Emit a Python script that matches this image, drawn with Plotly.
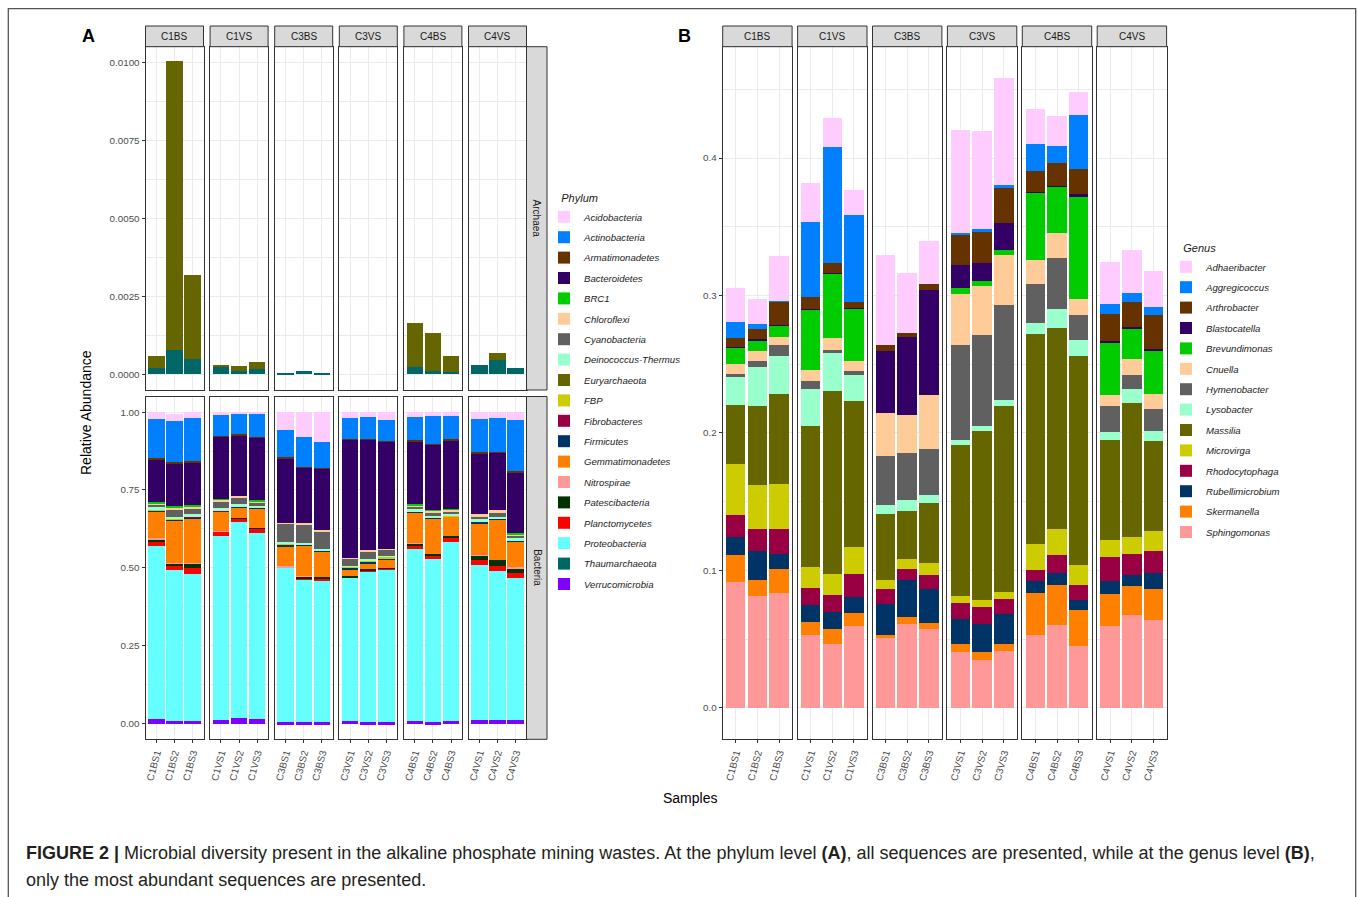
import plotly.graph_objects as go

W, H = 1358, 897
FONT = "Liberation Sans, Arial, sans-serif"

# ---------------- data ----------------
sites = ["C1BS", "C1VS", "C3BS", "C3VS", "C4BS", "C4VS"]
samples = ["C1BS1", "C1BS2", "C1BS3", "C1VS1", "C1VS2", "C1VS3",
           "C3BS1", "C3BS2", "C3BS3", "C3VS1", "C3VS2", "C3VS3",
           "C4BS1", "C4BS2", "C4BS3", "C4VS1", "C4VS2", "C4VS3"]

phyla = ["Acidobacteria", "Actinobacteria", "Armatimonadetes", "Bacteroidetes", "BRC1",
         "Chloroflexi", "Cyanobacteria", "Deinococcus-Thermus", "Euryarchaeota", "FBP",
         "Fibrobacteres", "Firmicutes", "Gemmatimonadetes", "Nitrospirae", "Patescibacteria",
         "Planctomycetes", "Proteobacteria", "Thaumarchaeota", "Verrucomicrobia"]
phylum_colors = ["#FFCCFF", "#0080FF", "#663300", "#330066", "#00CC00",
                 "#FFCC99", "#606060", "#99FFCC", "#666600", "#CCCC00",
                 "#990044", "#003366", "#FF8000", "#FF9999", "#003300",
                 "#FF0000", "#66FFFF", "#006666", "#8000FF"]

# Archaea row (panel A, top)
arc_euryarchaeota = [0.00038, 0.00925, 0.0027, 0.00003, 0.00017, 0.00023,
                     0.0, 0.0, 0.0, 0.0, 0.0, 0.0,
                     0.00142, 0.00122, 0.00052, 0.0, 0.00025, 0.0]
arc_thaumarchaeota = [0.00021, 0.00078, 0.00049, 0.00025, 0.00011, 0.00016,
                      0.00006, 0.0001, 0.00006, 0.0, 0.0, 0.0,
                      0.00024, 0.0001, 0.00007, 0.0003, 0.00045, 0.00021]

# Bacteria row (panel A, bottom)
bac_acidobacteria = [0.021, 0.02, 0.0175, 0.006, 0.002, 0.007, 0.057, 0.079, 0.095,
                     0.0205, 0.015, 0.024, 0.015, 0.012, 0.011, 0.0235, 0.0195, 0.0255]
bac_actinobacteria = [0.127, 0.134, 0.14, 0.07, 0.068, 0.072, 0.088, 0.096, 0.083,
                      0.065, 0.07, 0.068, 0.076, 0.09, 0.0765, 0.106, 0.109, 0.165]
bac_armatimonadetes = [0.002, 0.001, 0.002, 0.002, 0.002, 0.002, 0.002, 0.002, 0.002,
                       0.001, 0.001, 0.001, 0.002, 0.002, 0.002, 0.001, 0.001, 0.003]
bac_bacteroidetes = [0.137, 0.14, 0.14, 0.201, 0.198, 0.202, 0.209, 0.18, 0.198,
                     0.381, 0.357, 0.345, 0.203, 0.21, 0.22, 0.198, 0.186, 0.195]
bac_brc1 = [0.004, 0.003, 0.003, 0.001, 0.0, 0.001, 0.0, 0.0, 0.0,
            0.0, 0.0, 0.0, 0.003, 0.001, 0.003, 0.0, 0.0, 0.003]
bac_chloroflexi = [0.004, 0.01, 0.009, 0.006, 0.004, 0.005, 0.001, 0.003, 0.003,
                   0.001, 0.002, 0.002, 0.003, 0.006, 0.004, 0.005, 0.005, 0.004]
bac_cyanobacteria = [0.01, 0.02, 0.016, 0.022, 0.022, 0.012, 0.06, 0.059, 0.058,
                     0.025, 0.027, 0.021, 0.01, 0.011, 0.011, 0.011, 0.016, 0.01]
bac_deinococcus = [0.006, 0.005, 0.006, 0.006, 0.005, 0.004, 0.004, 0.004, 0.002,
                   0.002, 0.003, 0.002, 0.005, 0.004, 0.004, 0.004, 0.003, 0.004]
bac_fbp = [0.002, 0.001, 0.001, 0.001, 0.0, 0.0, 0.002, 0.001, 0.003,
           0.003, 0.004, 0.004, 0.001, 0.001, 0.001, 0.001, 0.001, 0.001]
bac_fibrobacteres = [0.002, 0.001, 0.001, 0.001, 0.001, 0.001, 0.0, 0.0, 0.0,
                     0.0, 0.0, 0.0, 0.001, 0.0, 0.0, 0.001, 0.0, 0.0]
bac_firmicutes = [0.003, 0.004, 0.003, 0.003, 0.003, 0.003, 0.006, 0.002, 0.002,
                  0.005, 0.005, 0.005, 0.002, 0.003, 0.002, 0.005, 0.004, 0.003]
bac_gemmatimonadetes = [0.087, 0.138, 0.146, 0.061, 0.034, 0.062, 0.064, 0.099, 0.082,
                        0.022, 0.021, 0.028, 0.099, 0.114, 0.063, 0.102, 0.13, 0.085]
bac_nitrospirae = [0.002, 0.001, 0.001, 0.001, 0.0, 0.0, 0.003, 0.001, 0.0,
                   0.0, 0.0, 0.0, 0.001, 0.0, 0.0, 0.001, 0.0, 0.001]
bac_patescibacteria = [0.006, 0.008, 0.014, 0.002, 0.002, 0.002, 0.0, 0.008, 0.008,
                       0.004, 0.002, 0.001, 0.008, 0.005, 0.007, 0.017, 0.019, 0.016]
bac_planctomycetes = [0.018, 0.014, 0.021, 0.014, 0.011, 0.016, 0.001, 0.003, 0.002,
                      0.001, 0.002, 0.001, 0.011, 0.013, 0.011, 0.016, 0.016, 0.018]
bac_proteobacteria = [0.553, 0.485, 0.471, 0.591, 0.631, 0.595, 0.499, 0.458, 0.457,
                      0.461, 0.487, 0.494, 0.5525, 0.524, 0.577, 0.498, 0.48, 0.456]
bac_verrucomicrobia = [0.016, 0.0075, 0.0085, 0.012, 0.017, 0.016, 0.004, 0.005, 0.005,
                       0.0085, 0.004, 0.004, 0.0075, 0.004, 0.0075, 0.0105, 0.0105, 0.0105]

genera = ["Adhaeribacter", "Aggregicoccus", "Arthrobacter", "Blastocatella", "Brevundimonas",
          "Cnuella", "Hymenobacter", "Lysobacter", "Massilia", "Microvirga",
          "Rhodocytophaga", "Rubellimicrobium", "Skermanella", "Sphingomonas"]
genus_colors = ["#FFCCFF", "#0080FF", "#663300", "#330066", "#00CC00",
                "#FFCC99", "#606060", "#99FFCC", "#666600", "#CCCC00",
                "#990044", "#003366", "#FF8000", "#FF9999"]

gen_adhaeribacter = [0.0244, 0.0183, 0.0322, 0.0285, 0.0212, 0.018, 0.0657, 0.0439, 0.0311,
                     0.0754, 0.0718, 0.0779, 0.0253, 0.0215, 0.0171, 0.0306, 0.0309, 0.0258]
gen_aggregicoccus = [0.0113, 0.0036, 0.0007, 0.0549, 0.0844, 0.0634, 0.0, 0.0, 0.0,
                     0.0007, 0.0012, 0.0012, 0.02, 0.0123, 0.039, 0.0072, 0.0067, 0.0063]
gen_arthrobacter = [0.0069, 0.0079, 0.0169, 0.0086, 0.0074, 0.0044, 0.0046, 0.0024, 0.0048,
                    0.0227, 0.0234, 0.026, 0.0154, 0.0166, 0.0186, 0.0193, 0.0181, 0.0241]
gen_blastocatella = [0.0003, 0.0003, 0.0003, 0.0003, 0.0003, 0.0004, 0.0448, 0.0568, 0.0765,
                     0.0164, 0.0132, 0.0197, 0.0001, 0.0002, 0.0012, 0.0012, 0.0012, 0.0016]
gen_brevundimonas = [0.0121, 0.0079, 0.0084, 0.0439, 0.0472, 0.0379, 0.0, 0.0, 0.0,
                     0.0043, 0.0037, 0.0041, 0.0494, 0.0345, 0.0749, 0.0379, 0.0222, 0.0312]
gen_cnuella = [0.0071, 0.0073, 0.0058, 0.0084, 0.0085, 0.0075, 0.0315, 0.0278, 0.0388,
               0.0373, 0.0354, 0.0364, 0.0171, 0.0181, 0.0118, 0.0085, 0.0113, 0.0109]
gen_hymenobacter = [0.002, 0.0048, 0.0084, 0.0054, 0.0024, 0.0025, 0.0351, 0.034, 0.0339,
                    0.0687, 0.0665, 0.0686, 0.0282, 0.0373, 0.0183, 0.0187, 0.0104, 0.016]
gen_lysobacter = [0.0209, 0.0283, 0.0271, 0.0269, 0.027, 0.019, 0.0066, 0.0085, 0.0056,
                  0.0042, 0.0031, 0.0043, 0.0084, 0.0133, 0.0114, 0.0055, 0.0102, 0.0073]
gen_massilia = [0.0429, 0.057, 0.0657, 0.1032, 0.1336, 0.1067, 0.0485, 0.0344, 0.0436,
                0.1098, 0.1229, 0.1355, 0.1523, 0.1464, 0.1519, 0.0728, 0.0977, 0.0659]
gen_microvirga = [0.0366, 0.0322, 0.0327, 0.0148, 0.0148, 0.0191, 0.006, 0.0075, 0.0085,
                  0.0048, 0.0053, 0.0051, 0.0189, 0.0192, 0.015, 0.0126, 0.0121, 0.0141]
gen_rhodocytophaga = [0.0166, 0.0163, 0.018, 0.0126, 0.0128, 0.0172, 0.0116, 0.0078, 0.0109,
                      0.0117, 0.0122, 0.0109, 0.0085, 0.0128, 0.0104, 0.0172, 0.015, 0.0162]
gen_rubellimicrobium = [0.013, 0.0206, 0.0109, 0.0124, 0.0126, 0.0117, 0.0219, 0.0271, 0.0243,
                        0.0186, 0.0208, 0.0219, 0.0085, 0.0085, 0.0078, 0.0097, 0.008, 0.0121]
gen_skermanella = [0.0196, 0.0116, 0.0177, 0.009, 0.0105, 0.0094, 0.0024, 0.0051, 0.0043,
                   0.0056, 0.0058, 0.0053, 0.0303, 0.0298, 0.0257, 0.0235, 0.0218, 0.0223]
gen_sphingomonas = [0.0914, 0.0817, 0.0836, 0.0533, 0.0465, 0.0594, 0.0509, 0.0611, 0.0575,
                    0.0405, 0.0347, 0.0412, 0.0533, 0.0599, 0.0453, 0.0594, 0.0672, 0.0638]

arc_ticks = ["0.0000", "0.0025", "0.0050", "0.0075", "0.0100"]
bac_ticks = ["0.00", "0.25", "0.50", "0.75", "1.00"]
gen_ticks = ["0.0", "0.1", "0.2", "0.3", "0.4"]

archaea_values = {"Euryarchaeota": arc_euryarchaeota, "Thaumarchaeota": arc_thaumarchaeota}
bacteria_values = {
    "Acidobacteria": bac_acidobacteria, "Actinobacteria": bac_actinobacteria,
    "Armatimonadetes": bac_armatimonadetes, "Bacteroidetes": bac_bacteroidetes,
    "BRC1": bac_brc1, "Chloroflexi": bac_chloroflexi, "Cyanobacteria": bac_cyanobacteria,
    "Deinococcus-Thermus": bac_deinococcus, "FBP": bac_fbp, "Fibrobacteres": bac_fibrobacteres,
    "Firmicutes": bac_firmicutes, "Gemmatimonadetes": bac_gemmatimonadetes,
    "Nitrospirae": bac_nitrospirae, "Patescibacteria": bac_patescibacteria,
    "Planctomycetes": bac_planctomycetes, "Proteobacteria": bac_proteobacteria,
    "Verrucomicrobia": bac_verrucomicrobia,
}
genus_values = [gen_adhaeribacter, gen_aggregicoccus, gen_arthrobacter, gen_blastocatella,
                gen_brevundimonas, gen_cnuella, gen_hymenobacter, gen_lysobacter, gen_massilia,
                gen_microvirga, gen_rhodocytophaga, gen_rubellimicrobium, gen_skermanella,
                gen_sphingomonas]

# ---------------- layout geometry (pixels) ----------------
def fx(p):
    return p / W


def fy(p):
    return 1 - p / H


A_X0, A_W, A_STEP = 145.5, 58.0, 64.6
A_ROWS = [(46.7, 390.0), (396.5, 739.3)]
A_RSTRIP = (526.5, 547.0)
B_X0, B_W, B_STEP = 722.7, 69.4, 74.9
B_ROW = (46.7, 739.3)
STRIP_Y = (26.0, 46.7)

GRID = "#EBEBEB"
BORDER = "#333333"
TICKFONT = dict(family=FONT, size=9.8, color="#4D4D4D")

fig = go.Figure()
layout = {}
shapes = []
annotations = []


def ax_names(k):
    return ("x" if k == 1 else f"x{k}", "y" if k == 1 else f"y{k}",
            "xaxis" if k == 1 else f"xaxis{k}", "yaxis" if k == 1 else f"yaxis{k}")


def make_axes(k, xpx, ypx, facet_samples, yrange, dtick, ticktext, first_col, show_x):
    xa, ya, xkey, ykey = ax_names(k)
    layout[xkey] = dict(
        domain=[fx(xpx[0]), fx(xpx[1])], anchor=ya, type="category",
        categoryorder="array", categoryarray=facet_samples, range=[-0.6, 2.6],
        showgrid=True, gridcolor=GRID, gridwidth=1, zeroline=False,
        showline=True, mirror=True, linecolor=BORDER, linewidth=1,
        ticks="outside" if show_x else "", ticklen=3, tickcolor=BORDER,
        showticklabels=show_x, tickangle=-75, tickfont=TICKFONT, fixedrange=True,
    )
    layout[ykey] = dict(
        domain=[fy(ypx[1]), fy(ypx[0])], anchor=xa, range=yrange,
        tickmode="array", tickvals=[i * dtick for i in range(5)], ticktext=ticktext,
        showgrid=True, gridcolor=GRID, gridwidth=1, zeroline=False,
        minor=dict(tickmode="linear", tick0=dtick / 2, dtick=dtick, showgrid=True,
                   gridcolor=GRID, gridwidth=0.5, ticks=""),
        showline=True, mirror=True, linecolor=BORDER, linewidth=1,
        ticks="outside" if first_col else "", ticklen=3, tickcolor=BORDER,
        showticklabels=first_col, tickfont=TICKFONT, fixedrange=True,
    )
    return xa, ya


# Panel A axes
A_axes = {}
for r, row in enumerate(A_ROWS):
    for f, site in enumerate(sites):
        k = r * 6 + f + 1
        x0 = A_X0 + f * A_STEP
        if r == 0:
            A_axes[(r, f)] = make_axes(k, (x0, x0 + A_W), row, samples[3 * f:3 * f + 3],
                                       [-0.0005, 0.0105], 0.0025, arc_ticks, f == 0, False)
        else:
            A_axes[(r, f)] = make_axes(k, (x0, x0 + A_W), row, samples[3 * f:3 * f + 3],
                                       [-0.05, 1.05], 0.25, bac_ticks, f == 0, True)
# Panel B axes
B_axes = {}
for f, site in enumerate(sites):
    k = 13 + f
    x0 = B_X0 + f * B_STEP
    B_axes[f] = make_axes(k, (x0, x0 + B_W), B_ROW, samples[3 * f:3 * f + 3],
                          [-0.0229, 0.481], 0.1, gen_ticks, f == 0, True)

# ---------------- traces ----------------
shown = set()
for rank in range(len(phyla) - 1, -1, -1):  # bottom of stack first
    name, color = phyla[rank], phylum_colors[rank]
    for r, source in enumerate([archaea_values, bacteria_values]):
        if name not in source:
            continue
        vals = source[name]
        for f in range(6):
            xa, ya = A_axes[(r, f)]
            fig.add_trace(go.Bar(
                x=samples[3 * f:3 * f + 3], y=vals[3 * f:3 * f + 3], name=name,
                legend="legend", legendgroup="A" + name, legendrank=rank + 1,
                showlegend=name not in shown, width=0.9,
                marker=dict(color=color, line=dict(width=0)),
                xaxis=xa, yaxis=ya,
                hovertemplate=name + "<br>%{x}: %{y:.4f}<extra></extra>",
            ))
            shown.add(name)

for rank in range(len(genera) - 1, -1, -1):
    name, color, vals = genera[rank], genus_colors[rank], genus_values[rank]
    for f in range(6):
        xa, ya = B_axes[f]
        fig.add_trace(go.Bar(
            x=samples[3 * f:3 * f + 3], y=vals[3 * f:3 * f + 3], name=name,
            legend="legend2", legendgroup="B" + name, legendrank=rank + 1,
            showlegend=(f == 0), width=0.9,
            marker=dict(color=color, line=dict(width=0)),
            xaxis=xa, yaxis=ya,
            hovertemplate=name + "<br>%{x}: %{y:.4f}<extra></extra>",
        ))

# ---------------- strips ----------------
STRIP_FILL = "#D9D9D9"
STRIPFONT = dict(family=FONT, size=10, color="#1A1A1A")


def strip(x0, x1, y0, y1, text, angle=0):
    shapes.append(dict(type="rect", xref="paper", yref="paper",
                       x0=fx(x0), x1=fx(x1), y0=fy(y1), y1=fy(y0),
                       fillcolor=STRIP_FILL, line=dict(color=BORDER, width=1), layer="above"))
    annotations.append(dict(x=fx((x0 + x1) / 2), y=fy((y0 + y1) / 2), xref="paper", yref="paper",
                            text=text, showarrow=False, font=STRIPFONT, textangle=angle,
                            xanchor="center", yanchor="middle"))


for f, site in enumerate(sites):
    x0 = A_X0 + f * A_STEP
    strip(x0, x0 + A_W, STRIP_Y[0], STRIP_Y[1], site)
    x0 = B_X0 + f * B_STEP
    strip(x0, x0 + B_W, STRIP_Y[0], STRIP_Y[1], site)
strip(A_RSTRIP[0], A_RSTRIP[1], A_ROWS[0][0], A_ROWS[0][1], "Archaea", 90)
strip(A_RSTRIP[0], A_RSTRIP[1], A_ROWS[1][0], A_ROWS[1][1], "Bacteria", 90)

# outer frame
shapes.append(dict(type="rect", xref="paper", yref="paper", x0=fx(8.3), x1=fx(1355.7),
                   y0=fy(910), y1=fy(8.7), line=dict(color="#555555", width=1.3),
                   fillcolor="rgba(0,0,0,0)", layer="below"))


def label(x, y, text, size, angle=0, xanchor="center", color="#000000", family=FONT):
    annotations.append(dict(x=fx(x), y=fy(y), xref="paper", yref="paper", text=text,
                            showarrow=False, textangle=angle, xanchor=xanchor, yanchor="middle",
                            font=dict(family=family, size=size, color=color)))


label(88, 36, "<b>A</b>", 18)
label(684, 36, "<b>B</b>", 18)
label(86, 413, "Relative Abundance", 14, angle=-90)
label(690, 798, "Samples", 14)

label(24, 853, "<b>FIGURE 2 |</b> Microbial diversity present in the alkaline phosphate mining "
      "wastes. At the phylum level <b>(A)</b>, all sequences are presented, while at the genus "
      "level <b>(B)</b>,", 18, xanchor="left", color="#231F20")
label(24, 880, "only the most abundant sequences are presented.", 18, xanchor="left",
      color="#231F20")

NB = "&nbsp;" * 5
legend_common = dict(
    xanchor="left", yanchor="top", bgcolor="rgba(0,0,0,0)", borderwidth=0,
    traceorder="grouped", tracegroupgap=1.4, itemclick=False, itemdoubleclick=False,
    font=dict(family=FONT, size=9.6, color="#1A1A1A", style="italic"),
)
layout["legend"] = dict(legend_common, x=fx(544), y=fy(188),
                        title=dict(text=NB + "Phylum",
                                   font=dict(family=FONT, size=11, color="#1A1A1A", style="italic")))
layout["legend2"] = dict(legend_common, x=fx(1166), y=fy(238),
                         title=dict(text=NB + "Genus",
                                    font=dict(family=FONT, size=11, color="#1A1A1A", style="italic")))

fig.update_layout(
    width=W, height=H, autosize=False,
    margin=dict(l=0, r=0, t=0, b=0),
    paper_bgcolor="white", plot_bgcolor="white",
    barmode="stack", showlegend=True,
    font=dict(family=FONT, size=10, color="#000000"),
    shapes=shapes, annotations=annotations,
    **layout,
)

fig.write_html("out.html", config={"displayModeBar": False},
               post_script="document.body.style.margin='0px';")
